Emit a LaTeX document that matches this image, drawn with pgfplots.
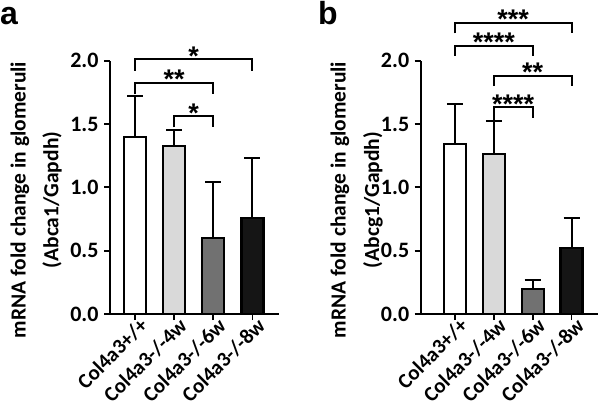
\documentclass[border=0pt]{standalone}
\usepackage{fontspec}
\setmainfont{Carlito}
\newfontfamily\panelfont{Liberation Sans}
\usepackage{pgfplots}
\pgfplotsset{compat=1.18}
\definecolor{lgray}{HTML}{D9D9D9}
\definecolor{mgray}{HTML}{717171}
\definecolor{dgray}{HTML}{151515}

\newcommand{\tickfont}{\bfseries\fontsize{22}{22}\selectfont}
\newcommand{\xtickfont}{\bfseries\fontsize{21}{21}\selectfont}
\newcommand{\labfont}{\bfseries\fontsize{21.5}{21.5}\selectfont}
\newcommand{\starfont}{\panelfont\bfseries\fontsize{27}{27}\selectfont}

\tikzset{stars/.style={font=\starfont, anchor=base, inner sep=0pt, yshift=-6pt}}

\pgfplotsset{
  barpanel/.style={
    scale only axis,
    height=253.3pt,
    axis x line*=bottom, axis y line*=left,
    ymin=0, ymax=2,
    ytick={0,0.5,1.0,1.5,2.0},
    yticklabel style={font=\tickfont, xshift=-2pt, /pgf/number format/.cd, fixed, fixed zerofill, precision=1, assume math mode=true},
    xtick={0,1,2,3},
    xticklabels={Col4a3+/+, Col4a3-/-4w, Col4a3-/-6w, Col4a3-/-8w},
    xticklabel style={font=\xtickfont, rotate=45, anchor=north east, inner sep=0pt, xshift=5pt, yshift=0pt},
    tick style={black, line width=1.8pt},
    tick align=outside, major tick length=6pt,
    axis line style={line width=2.2pt},
    ybar, bar width=22pt, bar shift=0pt,
    clip=false,
  },
  barstyle/.style={
    draw=black, line width=2.2pt, fill=#1,
    error bars/.cd, y dir=plus, y explicit,
    error bar style={line width=2pt, black},
    error mark options={line width=2pt, black, mark size=8pt, rotate=90},
  },
}

\begin{document}
\begin{tikzpicture}
\path[use as bounding box] (0pt,0pt) rectangle (600pt,407pt);

% panel letters
\node[anchor=base west, inner sep=0pt, font=\panelfont\bfseries\fontsize{32}{32}\selectfont] at (0pt,382pt) {a};
\node[anchor=base west, inner sep=0pt, font=\panelfont\bfseries\fontsize{32}{32}\selectfont] at (318pt,382.5pt) {b};

% y labels
\node[rotate=90, font=\labfont] at (20pt,207pt) {mRNA fold change in glomeruli};
\node[rotate=90, font=\labfont] at (52pt,207pt) {(Abca1/Gapdh)};
\node[rotate=90, font=\labfont] at (340pt,207pt) {mRNA fold change in glomeruli};
\node[rotate=90, font=\labfont] at (373pt,207pt) {(Abcg1/Gapdh)};

% panel a
\begin{axis}[barpanel, at={(110pt,93pt)}, anchor=south west,
  width=169pt, xmin=-0.64, xmax=3.68]
\addplot[barstyle=white] coordinates {(0,1.400) +- (0,0.320)};
\addplot[barstyle=lgray] coordinates {(1,1.326) +- (0,0.124)};
\addplot[barstyle=mgray] coordinates {(2,0.597) +- (0,0.443)};
\addplot[barstyle=dgray] coordinates {(3,0.758) +- (0,0.472)};
% significance brackets
\draw[line width=2pt] (axis cs:0,1.920) -- (axis cs:0,2.010) -- (axis cs:3,2.010) -- (axis cs:3,1.920);
\draw[line width=2pt] (axis cs:0,1.735) -- (axis cs:0,1.826) -- (axis cs:2,1.826) -- (axis cs:2,1.735);
\draw[line width=2pt] (axis cs:1,1.473) -- (axis cs:1,1.563) -- (axis cs:2,1.563) -- (axis cs:2,1.473);
\node[stars] at (axis cs:1.5,2.010) {*};
\node[stars] at (axis cs:1.0,1.826) {**};
\node[stars] at (axis cs:1.5,1.563) {*};
\end{axis}

% panel b
\begin{axis}[barpanel, at={(420.7pt,93pt)}, anchor=south west,
  width=177.3pt, xmin=-0.88, xmax=3.68]
\addplot[barstyle=white] coordinates {(0,1.342) +- (0,0.313)};
\addplot[barstyle=lgray] coordinates {(1,1.265) +- (0,0.258)};
\addplot[barstyle=mgray] coordinates {(2,0.195) +- (0,0.073)};
\addplot[barstyle=dgray] coordinates {(3,0.519) +- (0,0.236)};
\draw[line width=2pt] (axis cs:0,2.215) -- (axis cs:0,2.299) -- (axis cs:3,2.299) -- (axis cs:3,2.215);
\draw[line width=2pt] (axis cs:0,2.039) -- (axis cs:0,2.118) -- (axis cs:2,2.118) -- (axis cs:2,2.039);
\draw[line width=2pt] (axis cs:1,1.800) -- (axis cs:1,1.881) -- (axis cs:3,1.881) -- (axis cs:3,1.800);
\draw[line width=2pt] (axis cs:1,1.531) -- (axis cs:1,1.631) -- (axis cs:2,1.631) -- (axis cs:2,1.545);
\node[stars] at (axis cs:1.5,2.299) {***};
\node[stars] at (axis cs:1.0,2.118) {****};
\node[stars] at (axis cs:2.0,1.881) {**};
\node[stars] at (axis cs:1.5,1.631) {****};
\end{axis}
\end{tikzpicture}
\end{document}
